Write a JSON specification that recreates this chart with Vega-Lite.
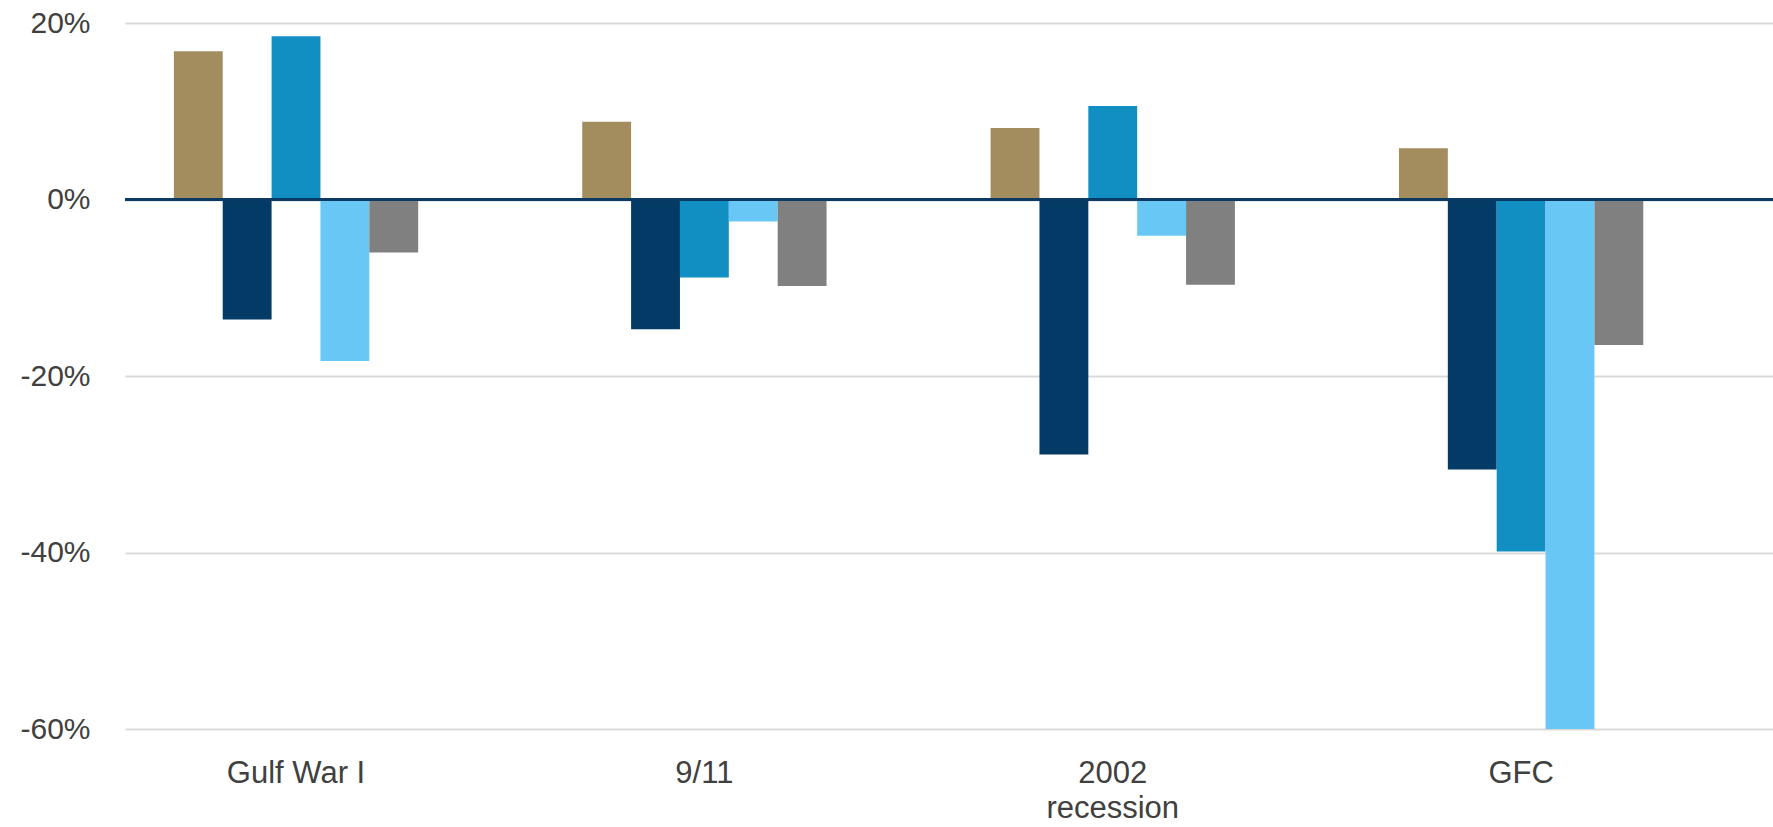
{
  "$schema": "https://vega.github.io/schema/vega-lite/v6.json",
  "width": 1648,
  "height": 706,
  "autosize": {"type": "none"},
  "padding": {"left": 125, "top": 23, "right": 0, "bottom": 98},
  "background": "white",
  "config": {
    "view": {"stroke": null},
    "font": "Liberation Sans"
  },
  "data": {
    "values": [
      {"event": "Gulf War I", "series": "s1", "change": 0.168},
      {"event": "Gulf War I", "series": "s2", "change": -0.136},
      {"event": "Gulf War I", "series": "s3", "change": 0.185},
      {"event": "Gulf War I", "series": "s4", "change": -0.183},
      {"event": "Gulf War I", "series": "s5", "change": -0.060},
      {"event": "9/11", "series": "s1", "change": 0.088},
      {"event": "9/11", "series": "s2", "change": -0.147},
      {"event": "9/11", "series": "s3", "change": -0.0885},
      {"event": "9/11", "series": "s4", "change": -0.025},
      {"event": "9/11", "series": "s5", "change": -0.098},
      {"event": "2002 recession", "series": "s1", "change": 0.081},
      {"event": "2002 recession", "series": "s2", "change": -0.289},
      {"event": "2002 recession", "series": "s3", "change": 0.106},
      {"event": "2002 recession", "series": "s4", "change": -0.041},
      {"event": "2002 recession", "series": "s5", "change": -0.0965},
      {"event": "GFC", "series": "s1", "change": 0.058},
      {"event": "GFC", "series": "s2", "change": -0.306},
      {"event": "GFC", "series": "s3", "change": -0.399},
      {"event": "GFC", "series": "s4", "change": -0.600},
      {"event": "GFC", "series": "s5", "change": -0.165}
    ]
  },
  "layer": [
    {
      "mark": {"type": "bar", "clip": true},
      "encoding": {
        "x": {
          "field": "event",
          "type": "nominal",
          "sort": ["Gulf War I", "9/11", "2002 recession", "GFC"],
          "scale": {"paddingInner": 0.1624, "paddingOuter": 0.099, "align": 0},
          "axis": {
            "title": null,
            "domain": false,
            "ticks": false,
            "labelAngle": 0,
            "labelFontSize": 31,
            "labelColor": "#404040",
            "labelPadding": 29,
            "labelLineHeight": 35,
            "labelExpr": "datum.value == '2002 recession' ? ['2002', 'recession'] : datum.label"
          }
        },
        "xOffset": {
          "field": "series",
          "type": "nominal",
          "sort": ["s1", "s2", "s3", "s4", "s5"],
          "scale": {"paddingInner": 0, "paddingOuter": 1.026}
        },
        "y": {
          "field": "change",
          "type": "quantitative",
          "scale": {"domain": [-0.6, 0.2], "nice": false},
          "axis": {
            "title": null,
            "values": [-0.6, -0.4, -0.2, 0, 0.2],
            "labelExpr": "replace(format(datum.value, '.0%'), '\u2212', '-')",
            "domain": false,
            "ticks": false,
            "labelFontSize": 30,
            "labelColor": "#404040",
            "labelPadding": 35,
            "gridColor": "#d9d9d9",
            "gridWidth": 2
          }
        },
        "color": {
          "field": "series",
          "type": "nominal",
          "legend": null,
          "scale": {
            "domain": ["s1", "s2", "s3", "s4", "s5"],
            "range": ["#A38D5F", "#033A66", "#128FC2", "#69C7F5", "#808080"]
          }
        }
      }
    },
    {
      "mark": {"type": "rule", "color": "#0B3A62", "strokeWidth": 2.5},
      "encoding": {"y": {"datum": 0}}
    }
  ]
}
